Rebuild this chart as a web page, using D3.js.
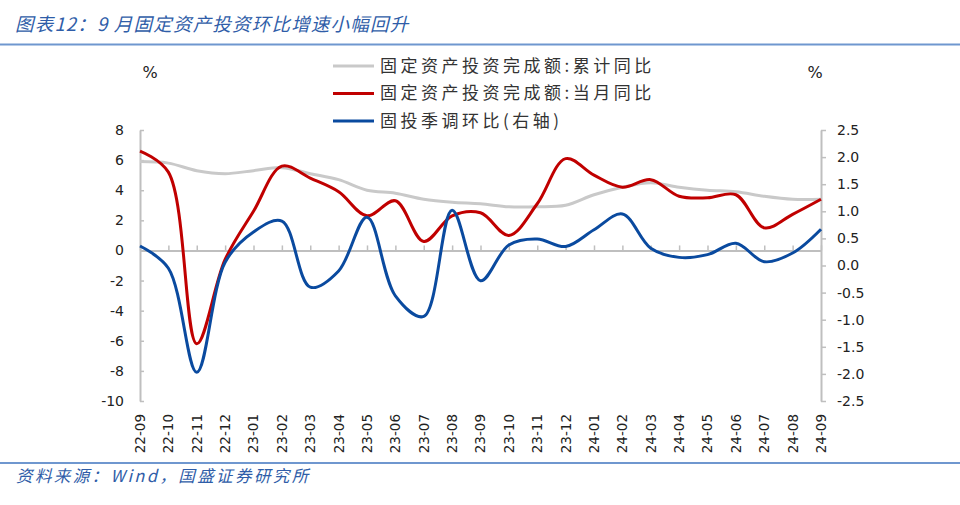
<!DOCTYPE html>
<html><head><meta charset="utf-8">
<script src="https://cdn.jsdelivr.net/npm/d3@7"></script>
<style>
html,body{margin:0;padding:0;background:#fff;}
svg{display:block;}
</style>
</head><body>
<svg id="c" width="960" height="505"></svg>
<script>
const categories = ["22-09","22-10","22-11","22-12","23-01","23-02","23-03","23-04","23-05","23-06","23-07","23-08","23-09","23-10","23-11","23-12","24-01","24-02","24-03","24-04","24-05","24-06","24-07","24-08","24-09"];
const cumYoY   = [5.9,5.8,5.3,5.1,5.3,5.5,5.1,4.7,4.0,3.8,3.4,3.2,3.1,2.9,2.9,3.0,3.7,4.2,4.5,4.2,4.0,3.9,3.6,3.4,3.4];
const monthYoY = [6.6,5.2,-6.2,-0.6,2.6,5.6,4.8,3.9,2.3,3.3,0.6,2.3,2.5,1.0,3.1,6.1,5.0,4.2,4.7,3.6,3.5,3.7,1.5,2.4,3.4];
const momSA    = [0.36,-0.05,-1.97,0.06,0.62,0.82,-0.40,-0.10,0.89,-0.56,-0.94,1.02,-0.28,0.38,0.49,0.35,0.66,0.95,0.32,0.15,0.20,0.41,0.07,0.23,0.67];
const leftTicks = [8,6,4,2,0,-2,-4,-6,-8,-10];
const rightTicks = [2.5,2.0,1.5,1.0,0.5,0.0,-0.5,-1.0,-1.5,-2.0,-2.5];
const seriesNames = ["固定资产投资完成额:累计同比","固定资产投资完成额:当月同比","固投季调环比(右轴)"];
const seriesColors = ["#c9c9c9","#c00000","#0a4a9f"];
const titleText = "图表12：9 月固定资产投资环比增速小幅回升";
const sourceText = "资料来源：Wind，国盛证券研究所";

const svg = d3.select("#c");
const x = d3.scalePoint().domain(categories).range([140, 821]);
const yL = d3.scaleLinear().domain([-10, 8]).range([401, 130]);
const yR = d3.scaleLinear().domain([-2.5, 2.5]).range([401, 130]);
const numFont = "'DejaVu Sans', Verdana, sans-serif";
const cjkFont = "'Noto Sans CJK SC', sans-serif";
const loc = d3.formatLocale({decimal: ".", thousands: ",", grouping: [3], currency: ["", ""], minus: "-"});

// title & footer
svg.append("text").attr("x", 15).attr("y", 31)
  .attr("font-family", cjkFont).attr("font-size", 18.5).attr("font-style", "italic")
  .attr("letter-spacing", 1.2).attr("fill", "#2f5da8").text(titleText);
svg.append("line").attr("x1", 0).attr("x2", 960).attr("y1", 44.5).attr("y2", 44.5)
  .attr("stroke", "#6f97cf").attr("stroke-width", 2);
svg.append("line").attr("x1", 0).attr("x2", 960).attr("y1", 463).attr("y2", 463)
  .attr("stroke", "#6f97cf").attr("stroke-width", 2);
svg.append("text").attr("x", 16).attr("y", 482)
  .attr("font-family", cjkFont).attr("font-size", 16.5).attr("font-style", "italic")
  .attr("letter-spacing", 2.4).attr("fill", "#2f5da8").text(sourceText);

// unit labels
svg.append("text").attr("x", 150).attr("y", 78).attr("text-anchor", "middle")
  .attr("font-family", numFont).attr("font-size", 16).attr("fill", "#222").text("%");
svg.append("text").attr("x", 815).attr("y", 78).attr("text-anchor", "middle")
  .attr("font-family", numFont).attr("font-size", 16).attr("fill", "#222").text("%");

// axes
const axisColor = "#bfbfbf";
const gL = svg.append("g").attr("transform", "translate(140,0)")
  .call(d3.axisLeft(yL).tickValues(leftTicks).tickSizeInner(-4).tickSizeOuter(0).tickPadding(16).tickFormat(loc.format("d")));
const gR = svg.append("g").attr("transform", "translate(821,0)")
  .call(d3.axisRight(yR).tickValues(rightTicks).tickSizeInner(5).tickSizeOuter(0).tickPadding(11).tickFormat(loc.format(".1f")));
const gX = svg.append("g").attr("transform", `translate(0,${yL(0)})`)
  .call(d3.axisBottom(x).tickSizeInner(-5).tickSizeOuter(0).tickFormat(""));
[gL, gR, gX].forEach(g => {
  g.selectAll("path.domain").attr("stroke", axisColor).attr("stroke-width", 2);
  g.selectAll(".tick line").attr("stroke", axisColor).attr("stroke-width", 1.5);
  g.selectAll("text").attr("font-family", numFont).attr("font-size", 14).attr("fill", "#222");
});
gR.selectAll("text").attr("text-anchor", "start");

// x labels
svg.append("g").selectAll("text").data(categories).join("text")
  .attr("transform", d => `translate(${x(d)},414) rotate(-90)`)
  .attr("text-anchor", "end").attr("dy", "0.36em")
  .attr("font-family", numFont).attr("font-size", 13.5).attr("fill", "#222")
  .text(d => d);

// lines
const curve = d3.curveCatmullRom.alpha(0.5);
const mkLine = (vals, ys) => d3.line().curve(curve)
  .x((d, i) => x(categories[i])).y(d => ys(d))(vals);
svg.append("path").attr("d", mkLine(cumYoY, yL)).attr("fill", "none")
  .attr("stroke", seriesColors[0]).attr("stroke-width", 3);
svg.append("path").attr("d", mkLine(monthYoY, yL)).attr("fill", "none")
  .attr("stroke", seriesColors[1]).attr("stroke-width", 3);
svg.append("path").attr("d", mkLine(momSA, yR)).attr("fill", "none")
  .attr("stroke", seriesColors[2]).attr("stroke-width", 3);

// legend
const leg = svg.append("g");
seriesNames.forEach((n, i) => {
  const yy = 66 + i * 27.5;
  leg.append("line").attr("x1", 333).attr("x2", 374).attr("y1", yy).attr("y2", yy)
    .attr("stroke", seriesColors[i]).attr("stroke-width", 3);
  leg.append("text").attr("x", 380).attr("y", yy).attr("dy", "0.35em")
    .attr("font-family", cjkFont).attr("font-size", 17).attr("letter-spacing", 3.5)
    .attr("fill", "#333").text(n);
});
</script>
</body></html>
